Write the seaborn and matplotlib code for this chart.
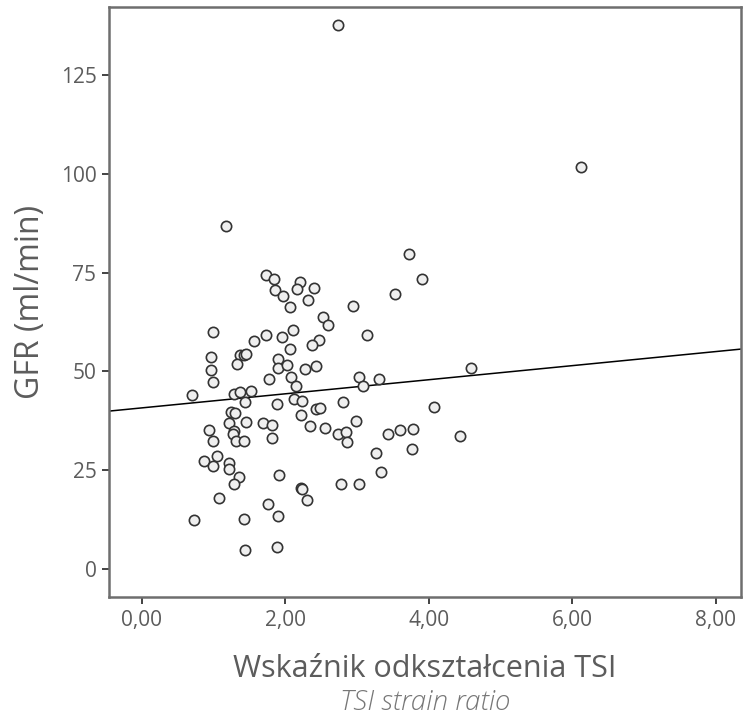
import numpy as np
import pandas as pd
import matplotlib
matplotlib.use("Agg")
import matplotlib.pyplot as plt
import matplotlib.ticker as mticker
import seaborn as sns

# values
tsi = [2.73, 6.12, 1.17, 3.72, 3.90, 1.73, 1.85, 2.20, 1.86, 2.17,
       2.40, 1.97, 3.53, 2.32, 2.07, 2.52, 2.60, 0.99, 1.73, 2.11,
       1.95, 1.57, 2.47, 2.94, 3.14, 2.37, 2.06, 0.97, 1.37, 1.42,
       1.46, 1.33, 1.90, 1.90, 2.02, 2.27, 2.43, 0.97, 0.99, 1.78,
       2.08, 2.15, 3.03, 3.30, 3.08, 0.70, 1.28, 1.37, 1.52, 1.44,
       1.89, 2.12, 2.24, 2.80, 4.07, 2.43, 2.49, 1.24, 1.30, 2.22,
       2.99, 1.22, 1.46, 1.69, 1.82, 2.34, 2.55, 0.94, 1.28, 1.27,
       1.00, 1.31, 1.42, 1.81, 2.73, 2.85, 2.86, 3.43, 3.60, 3.78,
       4.43, 4.59, 3.77, 3.26, 3.33, 1.05, 0.87, 1.00, 1.22, 1.22,
       1.36, 1.28, 1.91, 2.78, 3.03, 2.22, 2.23, 2.30, 1.08, 1.76,
       1.90, 0.73, 1.42, 1.44, 1.89]
gfr = [137.7, 101.7, 86.8, 79.8, 73.4, 74.4, 73.3, 72.7, 70.6, 70.8,
       71.2, 69.2, 69.5, 68.1, 66.2, 63.8, 61.7, 60.0, 59.3, 60.4,
       58.7, 57.6, 57.9, 66.5, 59.2, 56.8, 55.7, 53.6, 54.2, 54.2,
       54.4, 52.0, 53.1, 50.8, 51.6, 50.6, 51.5, 50.5, 47.3, 48.1,
       48.7, 46.3, 48.5, 48.0, 46.3, 44.0, 44.3, 44.7, 45.1, 42.2,
       41.7, 43.0, 42.6, 42.4, 41.0, 40.4, 40.9, 39.7, 39.4, 38.9,
       37.5, 37.0, 37.3, 37.0, 36.4, 36.2, 35.7, 35.1, 35.0, 34.1,
       32.5, 32.4, 32.4, 33.1, 34.3, 34.6, 32.1, 34.3, 35.2, 35.5,
       33.6, 50.9, 30.4, 29.4, 24.7, 28.7, 27.3, 26.2, 26.9, 25.3,
       23.4, 21.5, 23.8, 21.6, 21.6, 20.5, 20.4, 17.6, 18.1, 16.5,
       13.5, 12.4, 12.7, 5.0, 5.7]
# fit line as drawn in the reference
fit_intercept = 40.8
fit_slope = 1.78
x_ticks = [0, 2, 4, 6, 8]
y_ticks = [0, 25, 50, 75, 100, 125]

df = pd.DataFrame({"tsi": tsi, "gfr": gfr})

sns.set_style("ticks")
plt.rcParams["font.family"] = ["Open Sans", "DejaVu Sans"]

text_grey = "#5c5c5c"

fig = plt.figure(figsize=(7.5, 7.2), dpi=100)
ax = fig.add_axes([0.1453, 0.1708, 0.8427, 0.8199])

sns.scatterplot(data=df, x="tsi", y="gfr", ax=ax, s=55, color="#efefef",
                edgecolor="#333333", linewidth=1.2, zorder=3)
ax.axline((0, fit_intercept), slope=fit_slope, color="black", lw=1.1, zorder=2)

ax.set_xlim(-0.456, 8.35)
ax.set_ylim(-7.0, 142.2)
ax.set_xticks(x_ticks)
ax.set_yticks(y_ticks)
ax.xaxis.set_major_formatter(mticker.FuncFormatter(lambda v, p: f"{v:.2f}".replace(".", ",")))
ax.tick_params(direction="out", length=5, width=1.2, color="#222222",
               labelsize=15, labelcolor=text_grey, pad=4,
               bottom=True, left=True, top=False, right=False)

for s in ax.spines.values():
    s.set_visible(True)
    s.set_color("#6e6e6e")
    s.set_linewidth(1.8)

ax.set_xlabel("Wskaźnik odkształcenia TSI", fontsize=22, color=text_grey, labelpad=17)
ax.set_ylabel("GFR (ml/min)", fontsize=23, color=text_grey, labelpad=10)
fig.text(0.567, 0.006, "TSI strain ratio", fontsize=20, color="#777777",
         style="italic", fontweight="light", ha="center", va="bottom")

fig.savefig("out.png", dpi=100)
